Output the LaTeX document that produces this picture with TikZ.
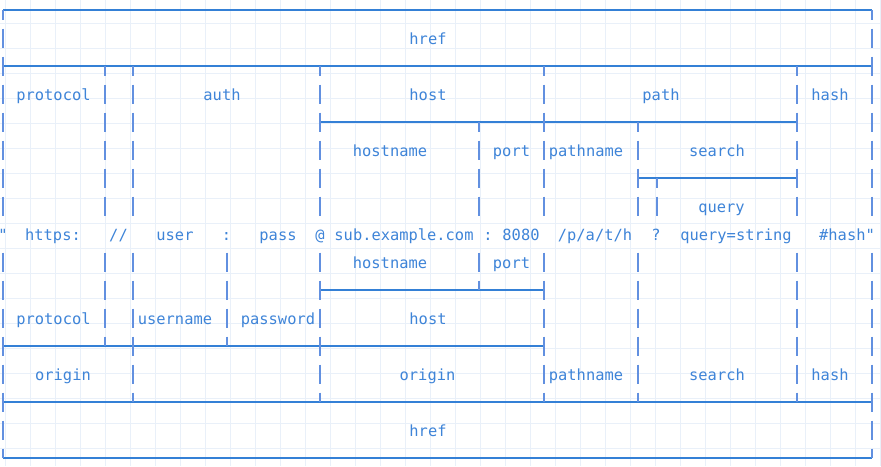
\documentclass[tikz,border=0pt]{standalone}
\usepackage{fontspec}
\setmonofont{DejaVu Sans Mono}
\definecolor{urlline}{RGB}{52,128,214}
\definecolor{urlbar}{RGB}{98,144,224}
\definecolor{urltext}{RGB}{62,132,216}
\definecolor{urlgrid}{RGB}{233,240,249}
\tikzset{
  hline/.style={urlline, line width=1.1pt},
  vbar/.style={urlbar, line width=1.3pt},
  lbl/.style={urltext, anchor=base, inner sep=0pt,
    font=\ttfamily\fontsize{15.4}{18}\selectfont},
}
% a bar through a whole row, and the half bars of the corner glyphs
\newcommand{\vbars}[2]{\foreach \x in {#2} \draw[vbar] (\x,{#1-9.5}) -- (\x,{#1+9.5});}
\newcommand{\stubsdown}[2]{\foreach \x in {#2} \draw[vbar] (\x,#1) -- (\x,{#1+9.5});}
\newcommand{\stubsup}[2]{\foreach \x in {#2} \draw[vbar] (\x,{#1-9.5}) -- (\x,#1);}
\begin{document}
\begin{tikzpicture}[x=1pt, y=-1pt]
  \useasboundingbox (0,0) rectangle (881,466);
  \fill[white] (0,0) rectangle (881,466);
  \foreach \x in {5,30,...,880}
  \draw[urlgrid, line width=0.6pt] (\x,0) -- (\x,466);
  \foreach \y in {23,48,...,466}
  \draw[urlgrid, line width=0.6pt] (0,\y) -- (881,\y);

  % horizontal rules
  \draw[hline] (3,10) -- (872,10);
  \draw[hline] (3,66) -- (872,66);
  \draw[hline] (320,122) -- (797,122);
  \draw[hline] (638,178) -- (797,178);
  \draw[hline] (320,290) -- (544,290);
  \draw[hline] (3,346) -- (544,346);
  \draw[hline] (3,402) -- (872,402);
  \draw[hline] (3,458) -- (872,458);

  % upper half
  \stubsdown{10}{3,872}
  \vbars{38}{3,872}
  \vbars{66}{3,872}
  \stubsdown{66}{105,133,320,544,797}
  \vbars{94}{3,105,133,320,544,797,872}
  \vbars{122}{3,105,133,320,544,797,872}
  \stubsdown{122}{479,638}
  \vbars{150}{3,105,133,320,479,544,638,797,872}
  \vbars{178}{3,105,133,320,479,544,638,797,872}
  \stubsdown{178}{657}
  \vbars{206}{3,105,133,320,479,544,638,657,797,872}

  % lower half
  \vbars{262}{3,105,133,227,320,479,544,638,797,872}
  \vbars{290}{3,105,133,227,320,544,638,797,872}
  \stubsup{290}{479}
  \vbars{318}{3,105,133,227,320,544,638,797,872}
  \vbars{346}{3,133,320,544,638,797,872}
  \stubsup{346}{105,227}
  \vbars{374}{3,133,320,544,638,797,872}
  \vbars{402}{3,872}
  \stubsup{402}{133,320,544,638,797}
  \vbars{430}{3,872}
  \stubsup{458}{3,872}

  % labels above the string
  \node[lbl] (hrefA) at (428,44) {href};
  \node[lbl] (protocolA) at (53.5,100) {protocol};
  \node[lbl] (auth) at (222,100) {auth};
  \node[lbl] (hostA) at (428,100) {host};
  \node[lbl] (path) at (661,100) {path};
  \node[lbl] (hashA) at (830,100) {hash};
  \node[lbl] (hostnameA) at (390,156) {hostname};
  \node[lbl] (portA) at (511.5,156) {port};
  \node[lbl] (pathnameA) at (586,156) {pathname};
  \node[lbl] (searchA) at (717,156) {search};
  \node[lbl] (query) at (721.5,212) {query};

  % the url itself
  \node[lbl] (qopen) at (3,240) {"};
  \node[lbl] (scheme) at (53,240) {https:};
  \node[lbl] (slashes) at (118.5,240) {//};
  \node[lbl] (user) at (175,240) {user};
  \node[lbl] (colonA) at (226.5,240) {:};
  \node[lbl] (pass) at (278,240) {pass};
  \node[lbl] (at) at (320,240) {@};
  \node[lbl] (domain) at (404,240) {sub.example.com};
  \node[lbl] (colonB) at (488,240) {:};
  \node[lbl] (number) at (521,240) {8080};
  \node[lbl] (segments) at (595,240) {/p/a/t/h};
  \node[lbl] (qmark) at (656,240) {?};
  \node[lbl] (pairs) at (736,240) {query=string};
  \node[lbl] (fragment) at (847,240) {\#hash"};

  % labels below the string
  \node[lbl] (hostnameB) at (390,268) {hostname};
  \node[lbl] (portB) at (511.5,268) {port};
  \node[lbl] (protocolB) at (53.5,324) {protocol};
  \node[lbl] (username) at (175,324) {username};
  \node[lbl] (password) at (278,324) {password};
  \node[lbl] (hostB) at (428,324) {host};
  \node[lbl] (originA) at (63,380) {origin};
  \node[lbl] (originB) at (427.5,380) {origin};
  \node[lbl] (pathnameB) at (586,380) {pathname};
  \node[lbl] (searchB) at (717,380) {search};
  \node[lbl] (hashB) at (830,380) {hash};
  \node[lbl] (hrefB) at (428,436) {href};
\end{tikzpicture}
\end{document}
